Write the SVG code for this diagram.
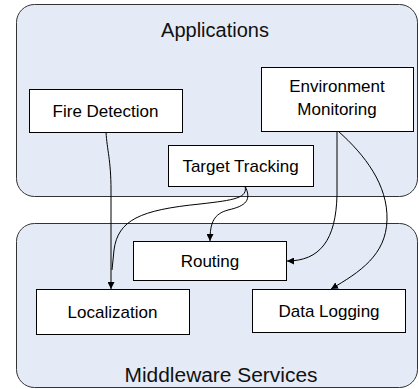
<svg xmlns="http://www.w3.org/2000/svg" width="419" height="389" viewBox="0 0 419 389">
<defs>
<style>
.panel{fill:#e5ebf6;stroke:#333;stroke-width:1}
.box{fill:#fff;stroke:#000;stroke-width:1}
.t{font-family:"Liberation Sans",Arial,sans-serif;font-size:17px;fill:#000;text-anchor:middle}
.title{font-family:"Liberation Sans",Arial,sans-serif;font-size:20px;fill:#111;text-anchor:middle}
.c{fill:none;stroke:#000;stroke-width:1}
</style>
<marker id="ah" viewBox="0 0 10 10" refX="10" refY="5" markerWidth="7" markerHeight="7" markerUnits="userSpaceOnUse" orient="auto">
<path d="M0,0 L10,5 L0,10 z" fill="#000"/>
</marker>
</defs>
<g id="applications">
<rect class="panel" x="16.5" y="4.5" width="401" height="192" rx="18" ry="18"/>
<text class="title" x="215" y="36.5">Applications</text>
</g>
<g id="middleware">
<rect class="panel" x="16.5" y="223.5" width="401" height="164" rx="18" ry="18"/>
<text class="title" x="221" y="381.5" textLength="193" lengthAdjust="spacingAndGlyphs">Middleware Services</text>
</g>
<g id="fire-detection">
<rect class="box" x="29.5" y="89.5" width="153" height="43"/>
<text class="t" x="105.5" y="117">Fire Detection</text>
</g>
<g id="environment-monitoring">
<rect class="box" x="261.5" y="67.5" width="152" height="64"/>
<text class="t" x="337" y="92">Environment</text>
<text class="t" x="337" y="115">Monitoring</text>
</g>
<g id="target-tracking">
<rect class="box" x="168.5" y="145.5" width="145" height="41"/>
<text class="t" x="240.5" y="172">Target Tracking</text>
</g>
<g id="routing">
<rect class="box" x="133.5" y="241.5" width="153" height="39"/>
<text class="t" x="210" y="267">Routing</text>
</g>
<g id="localization">
<rect class="box" x="36.5" y="289.5" width="153" height="45"/>
<text class="t" x="112.5" y="318">Localization</text>
</g>
<g id="data-logging">
<rect class="box" x="252.5" y="289.5" width="153" height="43"/>
<text class="t" x="329" y="317">Data Logging</text>
</g>
<g id="connectors">
<path class="c" d="M106,132 C107,150 111,160 111,190 L111,289" marker-end="url(#ah)"/>
<path class="c" d="M245,186 C248,198 235,200 200,204 C140,210 118,220 114,250 L112,270"/>
<path class="c" d="M245,186 C252,200 246,206 228,210 C214,214 210,222 210,241" marker-end="url(#ah)"/>
<path class="c" d="M337,131 L337,195 C336,240 320,261 287,261" marker-end="url(#ah)"/>
<path class="c" d="M338,131 C365,155 388,185 387,220 C386,255 360,272 331,289" marker-end="url(#ah)"/>
</g>
</svg>
